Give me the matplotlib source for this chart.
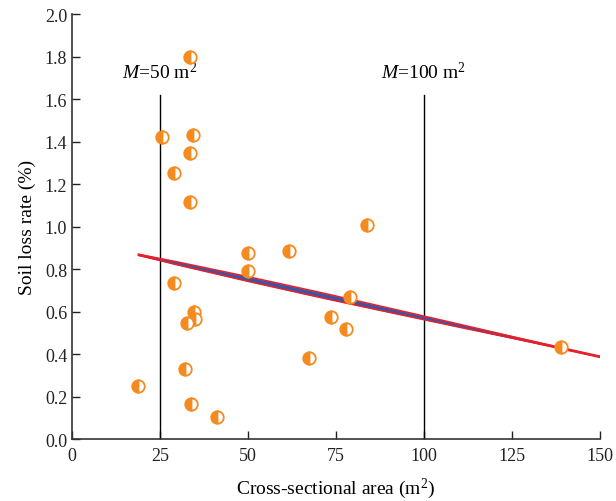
import numpy as np
import matplotlib.pyplot as plt

# measured points: cross-sectional area (m2) vs soil loss rate (%)
area = [33.5, 25.6, 34.4, 33.5, 29.0, 33.5, 50.0, 61.6, 83.8, 50.0, 29.0, 79.0,
        34.7, 35.0, 32.7, 73.6, 77.8, 67.3, 32.0, 18.8, 33.8, 41.2, 139.0]
loss = [1.80, 1.42, 1.43, 1.345, 1.25, 1.115, 0.875, 0.885, 1.005, 0.79, 0.735, 0.67,
        0.60, 0.565, 0.545, 0.575, 0.52, 0.38, 0.33, 0.25, 0.165, 0.105, 0.435]

# linear fit
fit_slope = -0.00366
fit_icpt = 0.936
fit_range = [19, 150]
# half-width of the blue band along the fit
band_x = [19, 30, 50, 70, 90, 110, 130, 150]
band_hw = [0.002, 0.007, 0.011, 0.012, 0.010, 0.007, 0.003, 0.0]

# reference lines
m_lines = [25, 100]
m_labels = ["$M$=50 m$^2$", "$M$=100 m$^2$"]

plt.rcParams['font.family'] = ['Liberation Serif', 'DejaVu Serif']
plt.rcParams['mathtext.fontset'] = 'custom'
plt.rcParams['mathtext.rm'] = 'Liberation Serif'
plt.rcParams['mathtext.it'] = 'Liberation Serif:italic'

orange = '#f58a1f'
red = '#e8202a'
blue = '#3a55a5'

fig = plt.figure(figsize=(6.16, 5.02), dpi=100)
ax = fig.add_axes([0.117, 0.1235, 0.857, 0.8465])

for xm, lab in zip(m_lines, m_labels):
    ax.plot([xm, xm], [0, 1.62], color='black', lw=1)
    ax.text(xm, 1.68, lab, ha='center', va='bottom', fontsize=14)

# fitted line with blue band and red edges
xf = np.array(fit_range, dtype=float)
ax.plot(xf, fit_icpt + fit_slope * xf, color=red, lw=2.0, zorder=3)
bx = np.array(band_x, dtype=float)
bc = fit_icpt + fit_slope * bx
bh = np.array(band_hw)
ax.fill_between(bx, bc - bh, bc + bh, color=blue, lw=0, zorder=3)
ax.plot(bx, bc + bh, color=red, lw=1.1, zorder=3)
ax.plot(bx, bc - bh, color=red, lw=1.1, zorder=3)

ax.plot(area, loss, 'o', ls='none', ms=9, fillstyle='left',
        markerfacecolor=orange, markerfacecoloralt='white',
        markeredgecolor=orange, markeredgewidth=1.3, zorder=4)

ax.set_xlim(0, 150)
ax.set_ylim(0, 2.0)
ax.set_xticks(np.arange(0, 151, 25))
ax.set_yticks(np.arange(0, 2.01, 0.2))
ax.set_yticklabels(["%.1f" % v for v in np.arange(0, 2.01, 0.2)])
ax.tick_params(direction='in', length=6, width=1, labelsize=13, colors='#222222')
ax.tick_params(axis='x', pad=6)
for s in ['top', 'right']:
    ax.spines[s].set_visible(False)
for s in ['left', 'bottom']:
    ax.spines[s].set_linewidth(1.2)
    ax.spines[s].set_color('#333333')

ax.set_xlabel("Cross-sectional area (m$^2$)", fontsize=14, labelpad=8)
ax.set_ylabel("Soil loss rate (%)", fontsize=14, labelpad=6)

fig.savefig("out.png", dpi=100)
